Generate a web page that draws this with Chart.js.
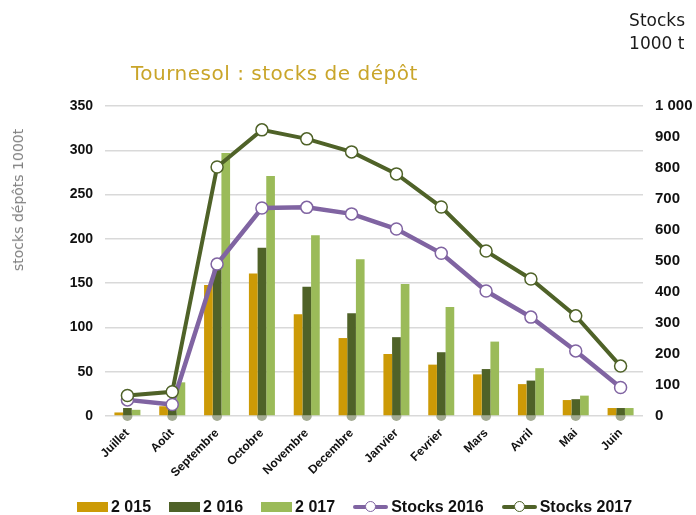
<!DOCTYPE html>
<html>
<head>
<meta charset="utf-8">
<script src="https://cdn.jsdelivr.net/npm/chart.js@4/dist/chart.umd.min.js"></script>
<style>
    body { margin: 0; background: #fff; }
    .wrap { position: relative; width: 696px; height: 515px; font-family: 'Liberation Sans', Arial, sans-serif; }
    canvas { position: absolute; left: 0; top: 0; }
    .title { position: absolute; left: 131px; top: 61px; font-family: 'DejaVu Sans', sans-serif; font-size: 20px; letter-spacing: 0.5px; color: #c9a52a; white-space: nowrap; }
    .unit { position: absolute; right: 11px; top: 9px; font-family: 'DejaVu Sans', sans-serif; font-size: 17px; line-height: 23px; color: #1a1a1a; text-align: left; }
    .ytitle { position: absolute; left: 18px; top: 200px; transform: translate(-50%, -50%) rotate(-90deg); font-family: 'DejaVu Sans', sans-serif; font-size: 14px; color: #808080; white-space: nowrap; }
    .legend { position: absolute; left: 77px; top: 498px; display: flex; align-items: center; gap: 18px; font-size: 16px; font-weight: bold; color: #111; white-space: nowrap; }
    .item { display: flex; align-items: center; gap: 3px; }
    .box { width: 31px; height: 10px; }
    .line { position: relative; width: 35px; height: 4px; border-radius: 2px; }
    .line span { position: absolute; left: 12px; top: -4px; width: 9px; height: 9px; border-radius: 50%; background: #fff; border: 1.5px solid; }
</style>
</head>
<body>
<div class="wrap">
    <canvas id="chart" width="696" height="515"></canvas>
    <div class="title">Tournesol : stocks de dépôt</div>
    <div class="unit">Stocks<br>1000 t</div>
    <div class="ytitle">stocks dépôts 1000t</div>
    <div class="legend" id="legend"></div>
</div>
<script>
const months = ['Juillet', 'Août', 'Septembre', 'Octobre', 'Novembre', 'Decembre', 'Janvier', 'Fevrier', 'Mars', 'Avril', 'Mai', 'Juin'];

// dépôts, 1000 t (axe gauche)
const depots2015 = [4, 11, 148, 161, 115, 88, 70, 58, 47, 36, 18, 9];
const depots2016 = [9, 10, 177, 190, 146, 116, 89, 72, 53, 40, 19, 9];
const depots2017 = [7, 38, 297, 271, 204, 177, 149, 123, 84, 54, 23, 9];

// stocks, 1000 t (axe droit)
const stocks2016 = [52, 37, 490, 671, 673, 652, 603, 525, 403, 319, 210, 92];
const stocks2017 = [66, 78, 803, 923, 894, 852, 781, 674, 532, 442, 323, 161];

// série vide de l'original : marqueurs gris posés sur l'axe
const emptySeries = [0, 0, 0, 0, 0, 0, 0, 0, 0, 0, 0, 0];

const leftTicks = [0, 50, 100, 150, 200, 250, 300, 350];
const rightTicks = [0, 100, 200, 300, 400, 500, 600, 700, 800, 900, 1000];

const colors = {
    c2015: '#cc9a06',
    c2016: '#4f6228',
    c2017: '#9bbb59',
    s2016: '#8064a2',
    s2017: '#4f6228',
    empty: '#a3ab92'
};

const barSet = (label, data, color) => ({
    type: 'bar',
    label: label,
    data: data,
    backgroundColor: color,
    yAxisID: 'y',
    order: 2,
    categoryPercentage: 0.58,
    barPercentage: 1.0
});

const lineSet = (label, data, color, width, order) => ({
    type: 'line',
    label: label,
    data: data,
    borderColor: color,
    borderWidth: width,
    pointRadius: 6,
    pointBorderWidth: 1.5,
    pointBackgroundColor: '#fff',
    pointBorderColor: color,
    tension: 0,
    yAxisID: 'y1',
    order: order
});

const datasets = [
    barSet('2 015', depots2015, colors.c2015),
    barSet('2 016', depots2016, colors.c2016),
    barSet('2 017', depots2017, colors.c2017),
    lineSet('Stocks 2016', stocks2016, colors.s2016, 4.5, 1),
    lineSet('Stocks 2017', stocks2017, colors.s2017, 4, 0)
];

const emptySet = {
    type: 'line',
    label: '',
    data: emptySeries,
    showLine: false,
    pointRadius: 5,
    pointBorderWidth: 0,
    pointBackgroundColor: colors.empty,
    yAxisID: 'y1',
    order: 3,
    clip: false
};

const tickFont = { family: "'Liberation Sans', Arial, sans-serif", size: 14, weight: 'bold' };

new Chart(document.getElementById('chart'), {
    data: { labels: months, datasets: datasets.concat([emptySet]) },
    options: {
        responsive: false,
        devicePixelRatio: 1,
        animation: false,
        layout: { padding: { top: 106, left: 0, right: 0, bottom: 0 } },
        plugins: { legend: { display: false }, tooltip: { enabled: false } },
        scales: {
            x: {
                grid: { display: false },
                border: { display: false },
                afterFit: scale => { scale.height = 99; },
                ticks: {
                    color: '#111',
                    font: { family: tickFont.family, size: 12, weight: 'bold' },
                    minRotation: 45,
                    maxRotation: 45,
                    padding: 2
                }
            },
            y: {
                position: 'left',
                min: 0,
                max: 350,
                afterFit: scale => { scale.width = 105; },
                afterBuildTicks: scale => { scale.ticks = leftTicks.map(v => ({ value: v })); },
                grid: { color: '#d9d9d9', lineWidth: 1.5, drawTicks: false },
                border: { display: false },
                ticks: { color: '#111', font: tickFont, padding: 12 }
            },
            y1: {
                position: 'right',
                min: 0,
                max: 1000,
                afterFit: scale => { scale.width = 53; },
                afterBuildTicks: scale => { scale.ticks = rightTicks.map(v => ({ value: v })); },
                grid: { drawOnChartArea: false, drawTicks: false },
                border: { display: false },
                ticks: {
                    color: '#111',
                    font: { family: tickFont.family, size: 15, weight: 'bold' },
                    padding: 12,
                    callback: v => v >= 1000 ? '1 000' : String(v)
                }
            }
        }
    }
});

// légende en bas, construite depuis les séries
const legend = document.getElementById('legend');
datasets.forEach(ds => {
    const item = document.createElement('div');
    item.className = 'item';
    const mark = document.createElement('div');
    if (ds.type === 'bar') {
        mark.className = 'box';
        mark.style.background = ds.backgroundColor;
    } else {
        mark.className = 'line';
        mark.style.background = ds.borderColor;
        const dot = document.createElement('span');
        dot.style.borderColor = ds.borderColor;
        mark.appendChild(dot);
    }
    const txt = document.createElement('span');
    txt.textContent = ds.label;
    item.appendChild(mark);
    item.appendChild(txt);
    legend.appendChild(item);
});
</script>
</body>
</html>
